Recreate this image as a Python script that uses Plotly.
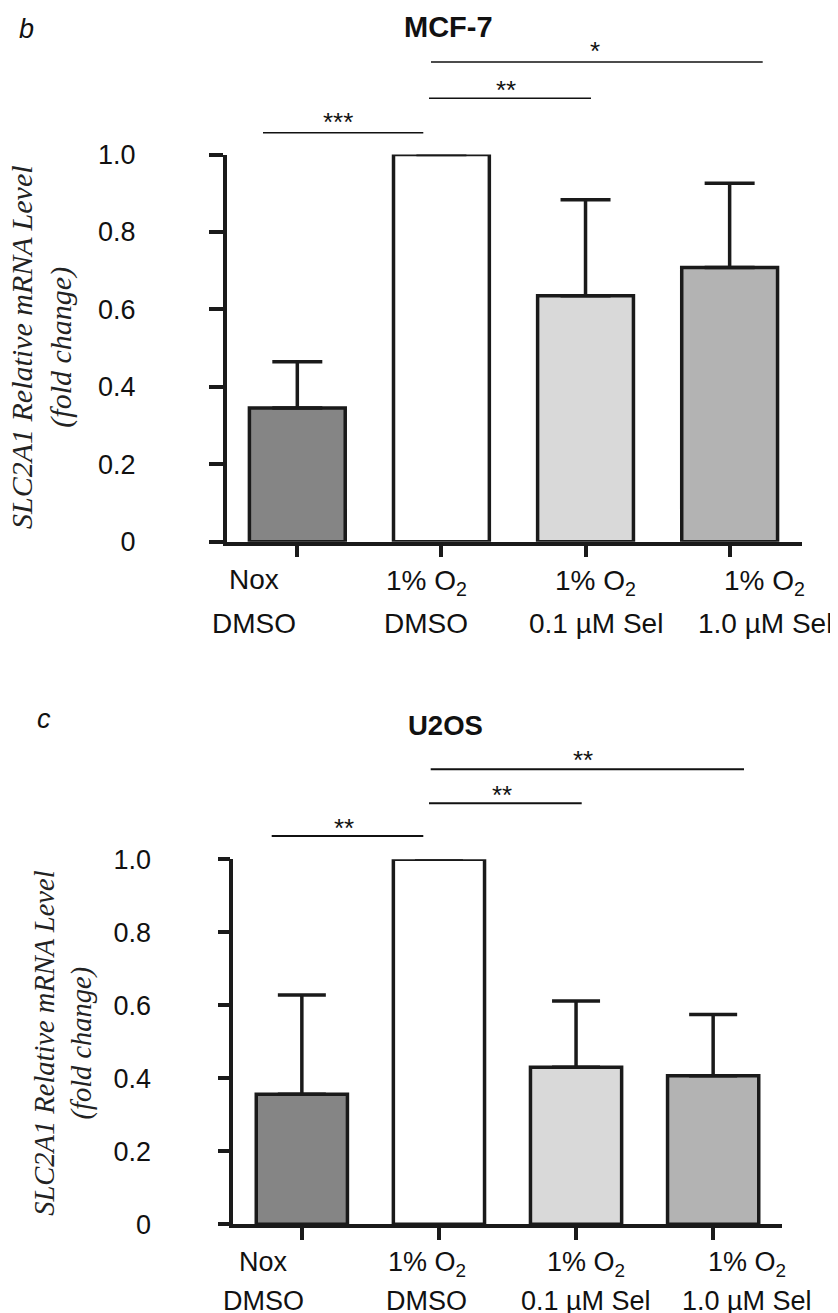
import plotly.graph_objects as go

# ---------------- data ----------------
positions = [0, 1, 2, 3]
label_line1 = ["Nox", "1% O<sub>2</sub>", "1% O<sub>2</sub>", "1% O<sub>2</sub>"]
label_line2 = ["DMSO", "DMSO", "0.1 µM Sel", "1.0 µM Sel"]
y_tickvals = [0, 0.2, 0.4, 0.6, 0.8, 1.0]
y_ticktext = ["0", "0.2", "0.4", "0.6", "0.8", "1.0"]

mcf7_mean = [0.345, 1.0, 0.635, 0.708]
mcf7_err = [0.120, 0.0, 0.248, 0.218]
u2os_mean = [0.356, 1.0, 0.430, 0.407]
u2os_err = [0.272, 0.0, 0.182, 0.168]

mcf7_sig = ["***", "**", "*"]
u2os_sig = ["**", "**", "**"]

# ---------------- styling / layout (pixels) ----------------
W, H = 838, 1313
PAGE_OFFSET = 8  # default body margin of the html page
bar_colors = ["#858585", "#ffffff", "#d9d9d9", "#b3b3b3"]
edge = "#1a1a1a"
SANS = "Liberation Sans, Arial, sans-serif"
SERIF = "Liberation Serif, Times New Roman, serif"


def px(x):
    return (x - PAGE_OFFSET) / W


def py(y):
    return 1 - (y - PAGE_OFFSET) / H


panels = [
    dict(name="MCF-7", letter="b", mean=mcf7_mean, err=mcf7_err, sig=mcf7_sig,
         xdom=(226.7, 801.7), xrange=[-0.49, 3.5], ydom=(541.7, 154.5),
         ticklen_y=14, standoff=68, tickfont=27, labfont=28,
         lab_shift=[-43, -15, 10, 35], lab_y=(580, 623.3), capw=25,
         title_xy=(448, 26.5), title_size=29, letter_xy=(26.5, 28.6),
         ytitle_xy=(42, 347), ytitle_size=30,
         sig_text=[(337.8, 122.5), (506.3, 89.5), (595, 50.8)],
         sig_lines=[(263, 423.3, 132.7), (429, 591, 98.3), (431, 762.7, 62)],
         sig_lw=1.6),
    dict(name="U2OS", letter="c", mean=u2os_mean, err=u2os_err, sig=u2os_sig,
         xdom=(233.3, 781.7), xrange=[-0.5, 3.5], ydom=(1224.3, 859.3),
         ticklen_y=12, standoff=61, tickfont=27, labfont=27,
         lab_shift=[-38.5, -12, 10, 33.5], lab_y=(1262, 1300.5), capw=24,
         title_xy=(445.5, 725.5), title_size=27.5, letter_xy=(44, 719),
         ytitle_xy=(62.8, 1043), ytitle_size=28.5,
         sig_text=[(344, 827.5), (501.7, 795), (583.3, 760)],
         sig_lines=[(271.7, 423.3, 836), (429, 581.7, 803.3), (430.7, 744, 769.3)],
         sig_lw=2),
]

fig = go.Figure()
annotations = []
shapes = []
layout_axes = {}

for k, p in enumerate(panels):
    sfx = "" if k == 0 else str(k + 1)
    xa, ya = "x" + sfx, "y" + sfx
    fig.add_trace(go.Bar(
        x=positions, y=p["mean"], xaxis=xa, yaxis=ya,
        width=0.665,
        marker=dict(color=bar_colors, line=dict(color=edge, width=3.5)),
        error_y=dict(type="data", array=p["err"], arrayminus=[0] * 4,
                     symmetric=False, color=edge, thickness=3.5, width=p["capw"]),
        cliponaxis=False, showlegend=False, hoverinfo="skip",
    ))
    layout_axes["xaxis" + sfx] = dict(
        domain=[px(p["xdom"][0]), px(p["xdom"][1])], range=p["xrange"],
        anchor=ya, showline=True, linecolor=edge, linewidth=3.5,
        ticks="outside", ticklen=12, tickwidth=3.5, tickcolor=edge,
        tickvals=positions, showticklabels=False, showgrid=False,
        zeroline=False, fixedrange=True, automargin=False,
    )
    layout_axes["yaxis" + sfx] = dict(
        domain=[py(p["ydom"][0]), py(p["ydom"][1])], range=[0, 1],
        anchor=xa, showline=True, linecolor=edge, linewidth=3.5,
        ticks="outside", ticklen=p["ticklen_y"], tickwidth=3.5, tickcolor=edge,
        tickvals=y_tickvals, ticktext=y_ticktext,
        tickfont=dict(family=SANS, size=p["tickfont"], color="#111"),
        ticklabelstandoff=p["standoff"], showgrid=False, zeroline=False,
        fixedrange=True, automargin=False,
    )
    # category labels (two lines each)
    for i, (l1, l2) in enumerate(zip(label_line1, label_line2)):
        for txt, yy in ((l1, p["lab_y"][0] + (2 if "sub" in l1 else 0)), (l2, p["lab_y"][1])):
            annotations.append(dict(
                text=txt, xref=xa, x=positions[i], xshift=p["lab_shift"][i],
                yref="paper", y=py(yy), xanchor="center", yanchor="middle",
                showarrow=False, font=dict(family=SANS, size=p["labfont"], color="#111"),
            ))
    # title, panel letter, y-axis title
    annotations.append(dict(
        text="<b>%s</b>" % p["name"], xref="paper", yref="paper",
        x=px(p["title_xy"][0]), y=py(p["title_xy"][1]), xanchor="center",
        yanchor="middle", showarrow=False,
        font=dict(family=SANS, size=p["title_size"], color="#111")))
    annotations.append(dict(
        text="<i>%s</i>" % p["letter"], xref="paper", yref="paper",
        x=px(p["letter_xy"][0]), y=py(p["letter_xy"][1]), xanchor="center",
        yanchor="middle", showarrow=False,
        font=dict(family=SANS, size=27, color="#111")))
    annotations.append(dict(
        text="<i>SLC2A1 Relative mRNA Level</i><br><i>(fold change)</i>",
        xref="paper", yref="paper", x=px(p["ytitle_xy"][0]), y=py(p["ytitle_xy"][1]),
        xanchor="center", yanchor="middle", textangle=-90, showarrow=False,
        font=dict(family=SERIF, size=p["ytitle_size"], color="#222")))
    # significance brackets
    for s, (tx, ty), (x0, x1, yl) in zip(p["sig"], p["sig_text"], p["sig_lines"]):
        annotations.append(dict(
            text=s, xref="paper", yref="paper", x=px(tx), y=py(ty),
            xanchor="center", yanchor="middle", showarrow=False,
            font=dict(family=SANS, size=26, color="#111")))
        shapes.append(dict(
            type="line", xref="paper", yref="paper", x0=px(x0), x1=px(x1),
            y0=py(yl), y1=py(yl), line=dict(color="#111", width=p["sig_lw"])))

fig.update_layout(
    width=W, height=H,
    margin=dict(l=0, r=0, t=0, b=0, pad=0, autoexpand=False),
    paper_bgcolor="white", plot_bgcolor="white",
    annotations=annotations, shapes=shapes, showlegend=False,
    **layout_axes,
)

fig.write_html("out.html")
